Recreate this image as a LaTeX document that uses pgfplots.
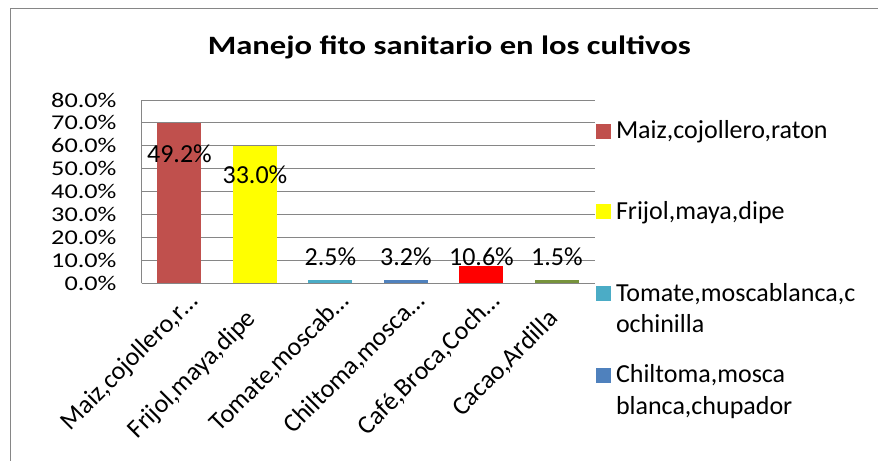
\documentclass[border=0pt]{standalone}
\usepackage{fontspec}
\setmainfont{Carlito}
\newfontfamily\tickfont{Carlito}[FakeStretch=1.25]
\newfontfamily\titlefont{Carlito}[FakeStretch=1.23]
\usepackage{pgfplots}
\pgfplotsset{compat=1.18}
\definecolor{cA}{HTML}{C0504D}
\definecolor{cB}{HTML}{FFFF00}
\definecolor{cC}{HTML}{4BACC6}
\definecolor{cD}{HTML}{4F81BD}
\definecolor{cE}{HTML}{FF0000}
\definecolor{cF}{HTML}{77933C}
\definecolor{gridc}{HTML}{868686}
\begin{document}
\begin{tikzpicture}
\useasboundingbox (0,0) rectangle (878bp,461bp);
\draw[gridc, line width=1bp] (10bp,0bp) -- (10bp,452bp) -- (878bp,452bp);
\node[anchor=base, inner sep=0pt] at (449.3bp,406bp) {\titlefont\bfseries\fontsize{26.5bp}{31bp}\selectfont Manejo fito sanitario en los cultivos};
\begin{axis}[
  at={(141.7bp,177.7bp)}, anchor=south west,
  scale only axis, width=453bp, height=183.3bp,
  xmin=-0.5, xmax=5.5, ymin=0, ymax=80,
  axis lines*=left, axis line style={-, gridc, line width=1bp},
  ymajorgrids, major grid style={gridc, line width=1bp},
  major tick length=0pt,
  ytick={0,10,20,30,40,50,60,70,80},
  yticklabels={0.0\%,10.0\%,20.0\%,30.0\%,40.0\%,50.0\%,60.0\%,70.0\%,80.0\%},
  yticklabel style={anchor=east, inner sep=0pt, xshift=-25bp, font=\tickfont\fontsize{21bp}{21bp}\selectfont},
  xtick={0,1,2,3,4,5},
  xticklabels={{Maiz,cojollero,r…},{Frijol,maya,dipe\kern25bp},{Tomate,moscab…},{Chiltoma,mosca…},{Café,Broca,Coch…},{Cacao,Ardilla\kern25bp}},
  xticklabel style={xshift=20bp, yshift=-19bp, rotate=45, anchor=base east, inner sep=0pt, font=\fontsize{26bp}{31bp}\selectfont},
  legend style={at={(1.00287,0.8871)}, anchor=north west, draw=none, fill=none, inner sep=0pt, outer sep=0pt, row sep=0pt, column sep=0pt, font=\fontsize{26bp}{31.6bp}\selectfont,
    nodes={anchor=base west, inner xsep=5bp, inner ysep=0pt, text depth={}, text height={}},
    cells={anchor=base west}},
  clip=false,
]
\addplot[ybar, bar width=44bp, bar shift=0pt, fill=cA, draw=none, legend image code/.code={\fill[cA] (0bp,0bp) rectangle (15bp,15bp);}] coordinates {(0,70)};
\addlegendentry{\rule[-62.5bp]{0pt}{20bp}Maiz,cojollero,raton}
\addplot[ybar, bar width=44bp, bar shift=0pt, fill=cB, draw=none, legend image code/.code={\fill[cB] (0bp,0bp) rectangle (15bp,15bp);}] coordinates {(1,60)};
\addlegendentry{\rule[-64bp]{0pt}{20bp}Frijol,maya,dipe}
\addplot[ybar, bar width=44bp, bar shift=0pt, fill=cC, draw=none, legend image code/.code={\fill[cC] (0bp,0bp) rectangle (15bp,15bp);}] coordinates {(2,1.5)};
\addlegendentry{\rule[-13.5bp]{0pt}{20bp}Tomate,moscablanca,c}
\addlegendimage{empty legend}
\addlegendentry{\rule[-32bp]{0pt}{20bp}ochinilla}
\addplot[ybar, bar width=44bp, bar shift=0pt, fill=cD, draw=none, legend image code/.code={\fill[cD] (0bp,0bp) rectangle (15bp,15bp);}] coordinates {(3,1.5)};
\addlegendentry{\rule[-13.5bp]{0pt}{20bp}Chiltoma,mosca}
\addlegendimage{empty legend}
\addlegendentry{\rule[-8bp]{0pt}{20bp}blanca,chupador}
\addplot[forget plot, ybar, bar width=44bp, bar shift=0pt, fill=cE, draw=none] coordinates {(4,7.7)};
\addplot[forget plot, ybar, bar width=44bp, bar shift=0pt, fill=cF, draw=none] coordinates {(5,1.5)};
\addplot[forget plot, only marks, mark=*, mark size=0pt, mark options={draw=none, fill=none},
  nodes near coords, point meta=explicit symbolic,
  nodes near coords style={anchor=center, inner sep=0pt, font=\fontsize{26bp}{26bp}\selectfont}]
  coordinates {(0,56.7)[49.2\%] (1,47.3)[33.0\%] (2,11.6)[2.5\%] (3,11.6)[3.2\%] (4,11.6)[10.6\%] (5,11.6)[1.5\%]};
\end{axis}
\end{tikzpicture}
\end{document}
